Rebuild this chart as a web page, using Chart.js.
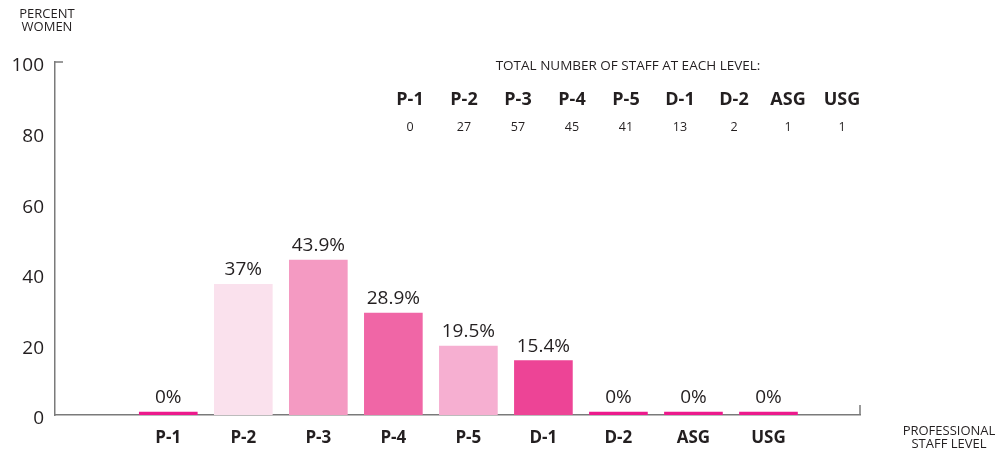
<!DOCTYPE html>
<html>
<head>
<meta charset="utf-8">
<script src="https://cdn.jsdelivr.net/npm/chart.js@4"></script>
<style>
  html, body { margin: 0; padding: 0; background: #fff; }
</style>
</head>
<body>
<canvas id="grafico" width="1000" height="453"></canvas>
<script>
const levels = ['P-1', 'P-2', 'P-3', 'P-4', 'P-5', 'D-1', 'D-2', 'ASG', 'USG'];
const percentWomen = [0, 37, 43.9, 28.9, 19.5, 15.4, 0, 0, 0];
const percentLabels = ['0%', '37%', '43.9%', '28.9%', '19.5%', '15.4%', '0%', '0%', '0%'];
const staffTotals = [0, 27, 57, 45, 41, 13, 2, 1, 1];
const barColors = ['#ec1a8c', '#fae1ed', '#f49ac2', '#f066a6', '#f6afd1', '#ed4496', '#ec1a8c', '#ec1a8c', '#ec1a8c'];
const yTicks = [0, 20, 40, 60, 80, 100];

const FONT = '"Open Sans", sans-serif';
const TEXT = '#231f20';
const AXIS = '#7a7a7a';

const extras = {
  id: 'extras',
  afterDraw(chart) {
    const c = chart.ctx;
    const x = chart.scales.x, y = chart.scales.y;
    c.save();
    // axis stubs
    c.strokeStyle = AXIS;
    c.lineWidth = 1.5;
    c.beginPath();
    c.moveTo(x.left, y.getPixelForValue(100));
    c.lineTo(x.left + 8, y.getPixelForValue(100));
    c.moveTo(x.right, y.bottom);
    c.lineTo(x.right, y.bottom - 10);
    c.stroke();

    // value labels
    c.fillStyle = TEXT;
    c.font = '19px ' + FONT;
    c.textAlign = 'center';
    c.textBaseline = 'bottom';
    chart.getDatasetMeta(0).data.forEach((bar, i) => {
      c.fillText(percentLabels[i], bar.x, bar.y - 5);
    });

    // axis titles
    c.font = '13px ' + FONT;
    c.textBaseline = 'middle';
    c.fillText('PERCENT', 47, 14);
    c.fillText('WOMEN', 47, 27);
    c.fillText('PROFESSIONAL', 949, 431);
    c.fillText('STAFF LEVEL', 949, 444);

    // staff totals table
    c.font = '13.5px ' + FONT;
    c.fillText('TOTAL NUMBER OF STAFF AT EACH LEVEL:', 628, 66);
    levels.forEach((lv, i) => {
      const cx = 410 + i * 54;
      c.font = 'bold 18px ' + FONT;
      c.fillText(lv, cx, 100);
      c.font = '12.5px ' + FONT;
      c.fillText(String(staffTotals[i]), cx, 127);
    });
    c.restore();
  }
};

new Chart(document.getElementById('grafico'), {
  type: 'bar',
  data: {
    datasets: [{
      data: percentWomen.map((v, i) => ({ x: i + 1, y: v })),
      backgroundColor: barColors,
      borderWidth: 0,
      barThickness: 58,
      minBarLength: 3
    }]
  },
  options: {
    responsive: false,
    animation: false,
    devicePixelRatio: 1,
    layout: { padding: { left: 0, right: 140, top: 62, bottom: 0 } },
    plugins: { legend: { display: false }, tooltip: { enabled: false } },
    scales: {
      x: {
        type: 'linear',
        offset: false,
        min: -0.51,
        max: 10.22,
        grid: { display: false, drawTicks: false },
        border: { color: AXIS, width: 1.5 },
        afterBuildTicks: s => { s.ticks = levels.map((l, i) => ({ value: i + 1 })); },
        afterFit: s => { s.height = 38; },
        ticks: {
          callback: (v) => levels[v - 1],
          color: TEXT,
          font: { family: FONT, size: 17, weight: 'bold' },
          padding: 13,
          maxRotation: 0,
          autoSkip: false
        }
      },
      y: {
        min: 0,
        max: 100,
        afterBuildTicks: s => { s.ticks = yTicks.map(v => ({ value: v })); },
        afterFit: s => { s.width = 55; },
        grid: { display: false, drawTicks: false },
        border: { color: AXIS, width: 1.5 },
        ticks: {
          color: TEXT,
          font: { family: FONT, size: 19 },
          padding: 11,
          labelOffset: 4
        }
      }
    }
  },
  plugins: [extras]
});
</script>
</body>
</html>
